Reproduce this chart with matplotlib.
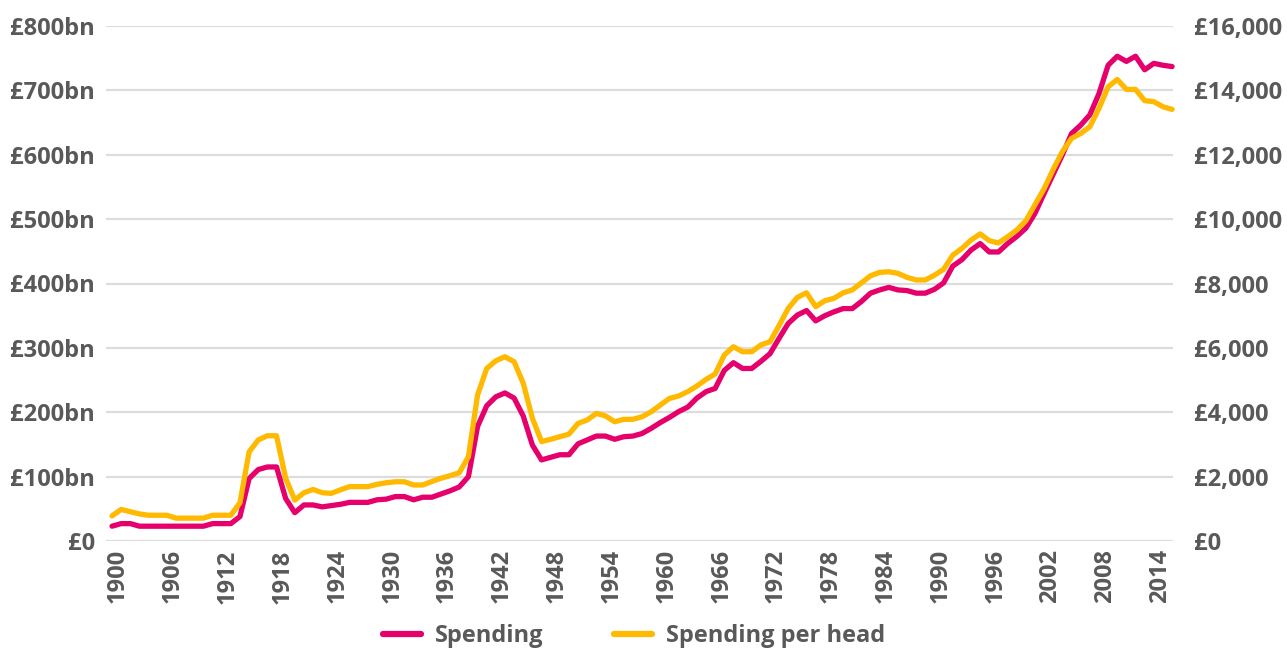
import matplotlib
matplotlib.use('Agg')
import matplotlib.pyplot as plt
import matplotlib.transforms as mtransforms
from matplotlib.ticker import FuncFormatter, MultipleLocator


plt.rcParams['font.family'] = ['Open Sans', 'DejaVu Sans']
plt.rcParams['font.weight'] = 'bold'

grey_colour = '#595959'
grid_colour = '#dcdcdc'
pink_colour = '#e5006b'
yellow_colour = '#ffb900'

years = list(range(1900, 2017))

# total spending, £bn (left axis)
spending = [
    23, 27, 27, 23, 23, 23, 23, 23, 23, 23,          # 1900s
    23, 27, 27, 27, 38, 97, 111, 115, 115, 66,       # 1910s
    44, 56, 56, 53, 55, 57, 60, 60, 60, 64,          # 1920s
    65, 69, 69, 64, 68, 68, 73, 78, 84, 100,         # 1930s
    178, 210, 224, 230, 222, 194, 149, 126, 130, 134,  # 1940s
    134, 151, 157, 163, 163, 158, 162, 163, 167, 175,  # 1950s
    184, 192, 201, 208, 222, 232, 237, 265, 277, 268,  # 1960s
    268, 279, 291, 315, 338, 351, 358, 342, 350, 356,  # 1970s
    361, 361, 372, 385, 390, 394, 390, 389, 385, 385,  # 1980s
    391, 401, 427, 437, 452, 462, 449, 449, 462, 473,  # 1990s
    486, 509, 540, 570, 600, 633, 646, 662, 695, 739,  # 2000s
    753, 745, 753, 732, 742, 739, 737,               # 2010s
]

# spending per head, £ (right axis)
per_head = [
    780, 980, 910, 840, 800, 800, 800, 710, 710, 710,
    710, 800, 800, 800, 1190, 2770, 3140, 3270, 3270, 1950,
    1270, 1500, 1600, 1500, 1480, 1590, 1690, 1690, 1690, 1760,
    1810, 1840, 1840, 1740, 1740, 1850, 1950, 2030, 2120, 2620,
    4535, 5360, 5600, 5725, 5570, 4900, 3810, 3090, 3160, 3240,
    3320, 3655, 3760, 3965, 3885, 3705, 3780, 3780, 3860, 4015,
    4225, 4430, 4505, 4640, 4815, 5020, 5190, 5780, 6035, 5880,
    5880, 6090, 6190, 6700, 7230, 7570, 7710, 7280, 7465, 7540,
    7710, 7800, 8020, 8240, 8345, 8365, 8315, 8190, 8110, 8110,
    8260, 8440, 8880, 9090, 9350, 9540, 9330, 9260, 9450, 9660,
    9950, 10450, 10950, 11550, 12100, 12510, 12660, 12870, 13440, 14110,
    14340, 14030, 14030, 13680, 13650, 13490, 13410,
]

tick_years = list(range(1900, 2015, 6))

fig = plt.figure(figsize=(12.87, 6.51), dpi=100)
ax = fig.add_axes([106 / 1287, 1 - 541 / 651, (1173 - 106) / 1287, (541 - 26) / 651])
ax2 = ax.twinx()

line1, = ax.plot(years, spending, color=pink_colour, linewidth=3.8,
                 solid_capstyle='round', solid_joinstyle='round',
                 label='Spending', clip_on=False)
line2, = ax2.plot(years, per_head, color=yellow_colour, linewidth=3.8,
                  solid_capstyle='round', solid_joinstyle='round',
                  label='Spending per head', clip_on=False)

ax.set_xlim(1899.34, 2016.1)
ax.set_ylim(0, 800)
ax2.set_ylim(0, 16000)

ax.yaxis.set_major_locator(MultipleLocator(100))
ax2.yaxis.set_major_locator(MultipleLocator(2000))
ax.set_xticks(tick_years)

ax.yaxis.set_major_formatter(
    FuncFormatter(lambda v, p: '£0' if v == 0 else '£%dbn' % v))
ax2.yaxis.set_major_formatter(
    FuncFormatter(lambda v, p: '£' + format(int(v), ',')))

ax.grid(axis='y', color=grid_colour, linewidth=1.6)
ax.set_axisbelow(True)

for a in (ax, ax2):
    for s in a.spines.values():
        s.set_visible(False)
    a.tick_params(axis='both', length=0, labelsize=17, labelcolor=grey_colour)

ax.tick_params(axis='y', pad=8)
ax2.tick_params(axis='y', pad=15)
ax.tick_params(axis='x', pad=6)

offset = mtransforms.ScaledTranslation(6 / 100, 0, fig.dpi_scale_trans)
for label in ax.get_xticklabels():
    label.set_rotation(90)
    label.set_transform(label.get_transform() + offset)

for label in ax.get_yticklabels() + ax2.get_yticklabels() + ax.get_xticklabels():
    label.set_fontweight('bold')

legend = fig.legend(
    handles=[line1, line2],
    loc='center',
    bbox_to_anchor=(634 / 1287, 1 - 636 / 651),
    ncol=2,
    frameon=False,
    fontsize=17,
    handlelength=1.6,
    handletextpad=0.6,
    columnspacing=3.0,
)
for text in legend.get_texts():
    text.set_color(grey_colour)
    text.set_fontweight('bold')
for h in legend.legend_handles:
    h.set_linewidth(4.5)

fig.savefig('out.png', dpi=100)
